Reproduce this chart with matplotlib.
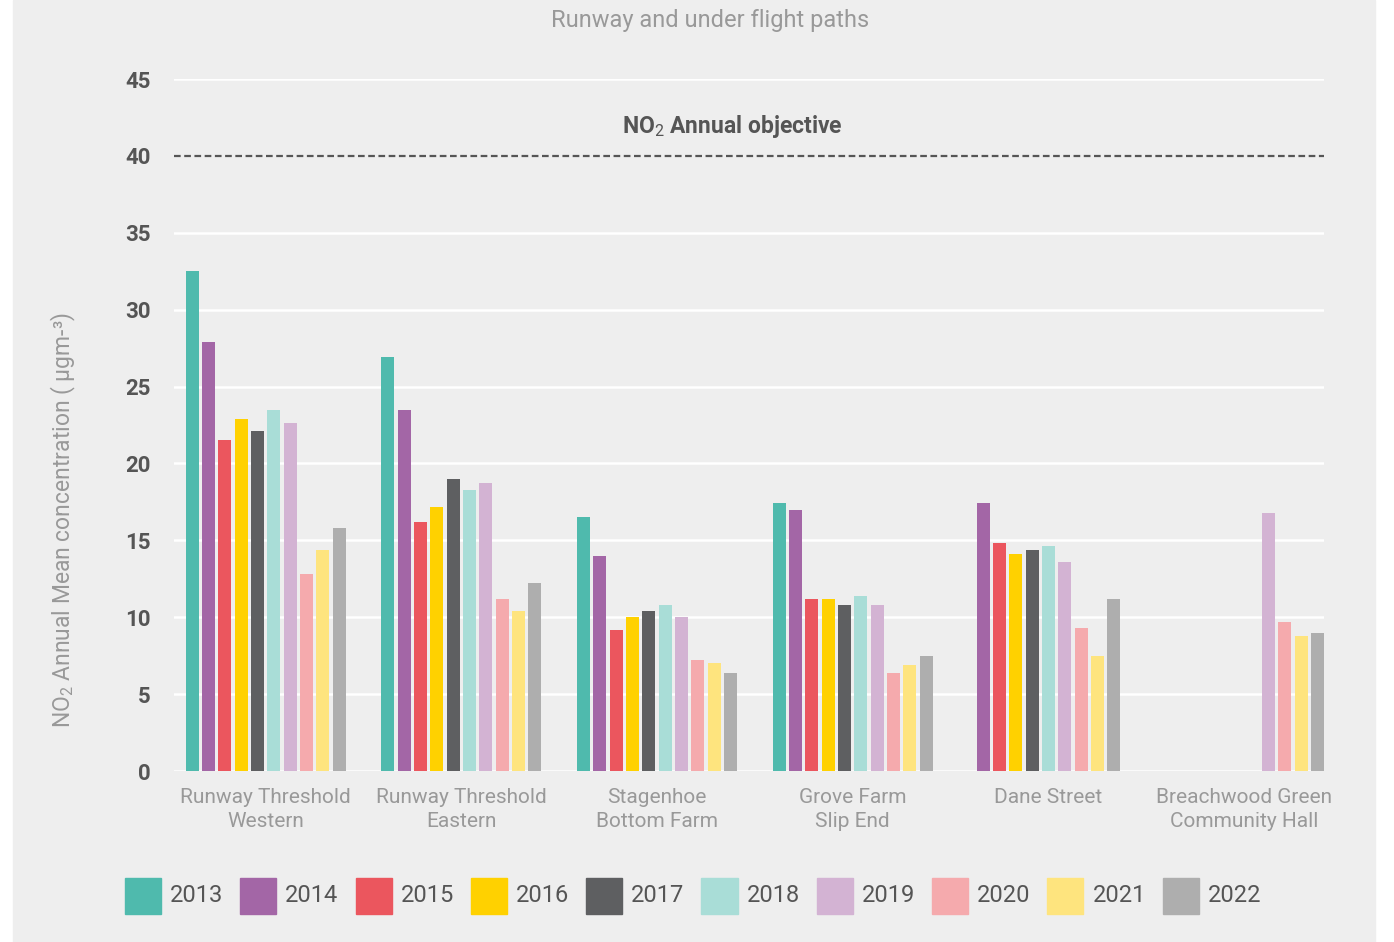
import numpy as np
import matplotlib
matplotlib.use("Agg")
import matplotlib.pyplot as plt
from matplotlib.patches import Rectangle

# ---- data -------------------------------------------------------------
sites = ["Runway Threshold\nWestern", "Runway Threshold\nEastern",
         "Stagenhoe\nBottom Farm", "Grove Farm\nSlip End", "Dane Street",
         "Breachwood Green\nCommunity Hall"]
years = ["2013", "2014", "2015", "2016", "2017",
         "2018", "2019", "2020", "2021", "2022"]

y2013 = [32.5, 26.9, 16.5, 17.4, None, None]
y2014 = [27.9, 23.5, 14.0, 17.0, 17.4, None]
y2015 = [21.5, 16.2, 9.2, 11.2, 14.8, None]
y2016 = [22.9, 17.2, 10.0, 11.2, 14.1, None]
y2017 = [22.1, 19.0, 10.4, 10.8, 14.4, None]
y2018 = [23.5, 18.3, 10.8, 11.4, 14.6, None]
y2019 = [22.6, 18.7, 10.0, 10.8, 13.6, 16.8]
y2020 = [12.8, 11.2, 7.2, 6.4, 9.3, 9.7]
y2021 = [14.4, 10.4, 7.0, 6.9, 7.5, 8.8]
y2022 = [15.8, 12.2, 6.4, 7.5, 11.2, 9.0]
series = [y2013, y2014, y2015, y2016, y2017,
          y2018, y2019, y2020, y2021, y2022]

objective = 40
y_ticks = [0, 5, 10, 15, 20, 25, 30, 35, 40, 45]

# ---- style ------------------------------------------------------------
colors = ["#4FBAAD", "#A366A6", "#EB565E", "#FFD100", "#5E5F61",
          "#A9DDD7", "#D3B3D3", "#F5AAAD", "#FEE47E", "#AEAEAE"]
# slot shift per site (Dane Street bars are centred in their group)
group_shift = [0, 0, 0, 0, -0.5, 0]

family = "Roboto"
plt.rcParams["font.family"] = [family, "DejaVu Sans"]
plt.rcParams["mathtext.fontset"] = "custom"
plt.rcParams["mathtext.rm"] = family
plt.rcParams["mathtext.bf"] = family + ":bold"
plt.rcParams["mathtext.it"] = family + ":italic"

W, H = 1394, 942
fig = plt.figure(figsize=(W / 100, H / 100), dpi=100)
fig.patch.set_facecolor("white")
fig.patches.append(Rectangle((13 / W, 0), (1375 - 13) / W, 1,
                             transform=fig.transFigure, color="#EEEEEE",
                             zorder=-10))

ax = fig.add_axes([174 / W, 1 - 771 / H, (1324 - 174) / W, (771 - 79) / H])
ax.set_facecolor("none")

pitch = 0.0834
bar_w = 0.0664
x = np.arange(len(sites))

for j, (vals, col) in enumerate(zip(series, colors)):
    for i, v in enumerate(vals):
        if v is None:
            continue
        xpos = x[i] + (j - 4.5 + group_shift[i]) * pitch
        ax.bar(xpos, v, width=bar_w, color=col, zorder=3)

for t in y_ticks:
    if t == objective:
        continue
    ax.axhline(t, color="white", lw=1.8, zorder=1)
ax.axhline(objective, color="#555555", lw=1.6, ls=(0, (3, 1.6)), zorder=2)

half = 4.5 * pitch + bar_w / 2
ax.set_xlim(-half - 0.06, x[-1] + half)
ax.set_ylim(0, 45)
ax.set_yticks(y_ticks)
ax.set_yticklabels([str(t) for t in y_ticks], fontsize=16,
                   color="#555555", fontweight="bold")
ax.tick_params(axis="y", length=0, pad=17)
ax.set_xticks(x)
ax.set_xticklabels(sites, fontsize=15, color="#999999", linespacing=1.35)
ax.tick_params(axis="x", length=0, pad=12)
for s in ax.spines.values():
    s.set_visible(False)

fig.text(710 / W, 1 - 20 / H, "Runway and under flight paths",
         ha="center", va="center", fontsize=17, color="#999999")
fig.text(732 / W, 1 - 126 / H, r"NO$_2$ Annual objective",
         ha="center", va="center", fontsize=16.5, color="#555555",
         fontweight="bold")
fig.text(63 / W, 1 - 520 / H, "NO$_2$ Annual Mean concentration ( µgm-³)",
         ha="center", va="center", rotation=90, fontsize=16.5,
         color="#999999")

# legend row
lx0, lpitch = 125, 115.3
for k, (yr, col) in enumerate(zip(years, colors)):
    px = lx0 + k * lpitch
    fig.patches.append(Rectangle((px / W, 1 - 914 / H), 36 / W, 36 / H,
                                 transform=fig.transFigure, color=col))
    fig.text((px + 45) / W, 1 - 896 / H, yr, ha="left", va="center",
             fontsize=17, color="#555555")

fig.savefig("out.png", dpi=100, facecolor=fig.get_facecolor())
